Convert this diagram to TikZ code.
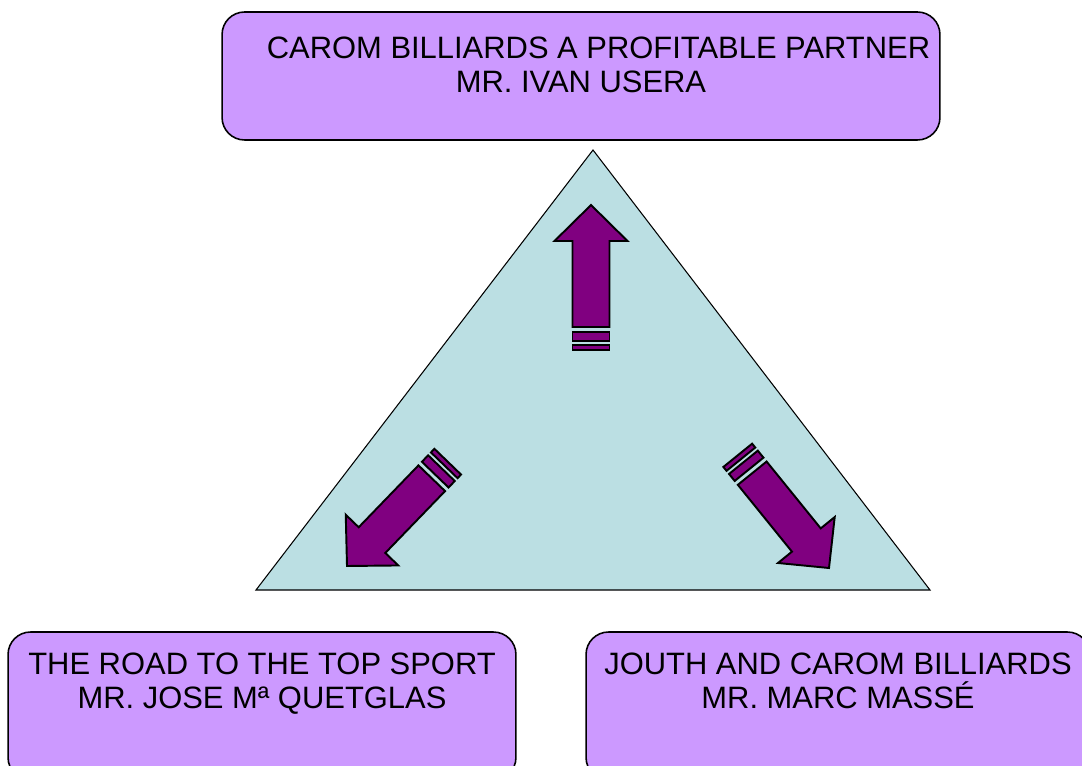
\documentclass[tikz,border=0pt]{standalone}
\usepackage{fontspec}
\setmainfont{Liberation Sans}
\usetikzlibrary{positioning}
\definecolor{boxpurple}{HTML}{CC99FF}
\definecolor{tableblue}{HTML}{BBDFE3}
\definecolor{arrowpurple}{HTML}{800080}
\tikzset{
  talkbox/.style={draw=black, line width=0.9pt, fill=boxpurple, rounded corners=0.45cm, inner sep=0pt},
  talktext/.style={inner sep=0pt, align=center, font=\fontsize{17.6}{19.8}\selectfont},
  blockarrow/.style={draw=black, line width=1.1pt, fill=arrowpurple, line join=miter},
}
\begin{document}
\begin{tikzpicture}[x=0.02cm, y=0.02cm]
        \useasboundingbox (0,0) rectangle (1082,765);
        \clip (0,0) rectangle (1082,765);
        % the three talks
        \node[talkbox, minimum width=14.36cm, minimum height=2.56cm] (usera) at (581,689) {};
        \node[talkbox, minimum width=10.16cm, minimum height=2.96cm] (quetglas) at (262,59) {};
        \node[talkbox, minimum width=10.08cm, minimum height=2.96cm] (masse) at (838,59) {};
        \node[talktext, below=0.5cm of usera.north] (useratext)
            {\hspace*{0.7cm}CAROM BILLIARDS A PROFITABLE PARTNER\\MR. IVAN USERA};
        \node[talktext, below=0.42cm of quetglas.north] (quetglastext)
            {THE ROAD TO THE TOP SPORT\\MR. JOSE Mª QUETGLAS};
        \node[talktext, below=0.42cm of masse.north] (massetext)
            {JOUTH AND CAROM BILLIARDS\\MR. MARC MASSÉ};
        % the table
        \draw[fill=tableblue, line width=0.6pt] (593,615) -- (930,175) -- (256,175) -- cycle;
        % block arrows, tip at the origin of each scope
        \foreach \tx/\ty/\ang in {591/560/90, 347/199/226, 829/197/-51}
        {
            \begin{scope}[shift={(\tx,\ty)}, rotate=\ang]
                \draw[blockarrow] (0,0) -- (-36,36.5) -- (-36,18.5) -- (-122,18.5)
                    -- (-122,-18.5) -- (-36,-18.5) -- (-36,-36.5) -- cycle;
                \draw[blockarrow] (-127,-18.5) rectangle (-136,18.5);
                \draw[blockarrow] (-140,-18.5) rectangle (-145,18.5);
            \end{scope}
        }
\end{tikzpicture}
\end{document}
